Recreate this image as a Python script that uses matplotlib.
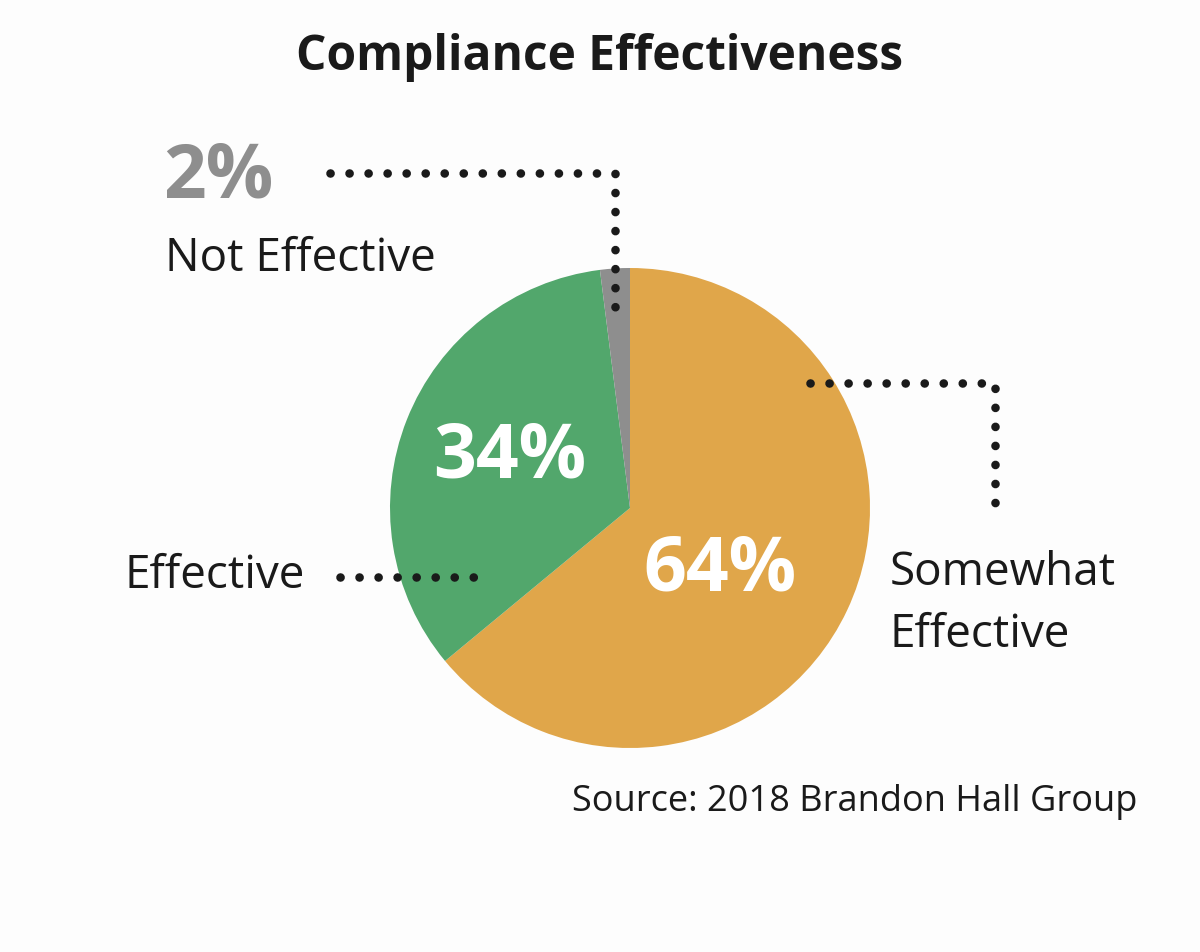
import matplotlib.pyplot as plt

# Datos
categorias = ["Somewhat Effective", "Effective", "Not Effective"]
valores = [64, 34, 2]
colores = ["#E0A64A", "#52A76C", "#8E8E8E"]

W, H = 1200, 952

def py(y):
    # pixel y (desde arriba) -> coordenada del eje
    return H - y

fig = plt.figure(figsize=(12, 9.52), dpi=100)
fig.patch.set_facecolor("#FDFDFD")
ax = fig.add_axes([0, 0, 1, 1])

ax.pie(valores, colors=colores, startangle=90, counterclock=False,
       center=(630, py(508)), radius=240, frame=True,
       wedgeprops=dict(linewidth=0))
ax.set_xlim(0, W)
ax.set_ylim(0, H)
ax.set_aspect("equal")
ax.axis("off")

fuente = "Open Sans"
oscuro = "#1A1A1A"

ax.text(600, py(57), "Compliance Effectiveness", ha="center", va="center",
        fontsize=34.5, fontweight="bold", family=fuente, color=oscuro)

# porcentajes
ax.text(163, py(178), f"{valores[2]}%", ha="left", va="center",
        fontsize=54, fontweight="bold", family=fuente, color=colores[2])
ax.text(510, py(458), f"{valores[1]}%", ha="center", va="center",
        fontsize=54, fontweight="bold", family=fuente, color="white")
ax.text(720, py(571), f"{valores[0]}%", ha="center", va="center",
        fontsize=54, fontweight="bold", family=fuente, color="white")

# etiquetas
ax.text(165, py(259), "Not Effective", ha="left", va="center",
        fontsize=33, family=fuente, color=oscuro)
ax.text(305, py(576), "Effective", ha="right", va="center",
        fontsize=33, family=fuente, color=oscuro)
ax.text(890, py(604), "Somewhat\nEffective", ha="left", va="center",
        fontsize=33, family=fuente, color=oscuro, linespacing=1.45)
ax.text(1137, py(802), "Source: 2018 Brandon Hall Group", ha="right", va="center",
        fontsize=26, family=fuente, color=oscuro)

# lineas punteadas
estilo = dict(color="#1A1A1A", linestyle=(0, (0.01, 2.2)), linewidth=6.2,
              dash_capstyle="round", solid_capstyle="round")
ax.plot([330, 615, 615], [py(173), py(173), py(312)], **estilo)
ax.plot([810, 995, 995], [py(383), py(383), py(520)], **estilo)
ax.plot([340, 480], [py(577), py(577)], **estilo)

fig.savefig("out.png", dpi=100, facecolor=fig.get_facecolor())
